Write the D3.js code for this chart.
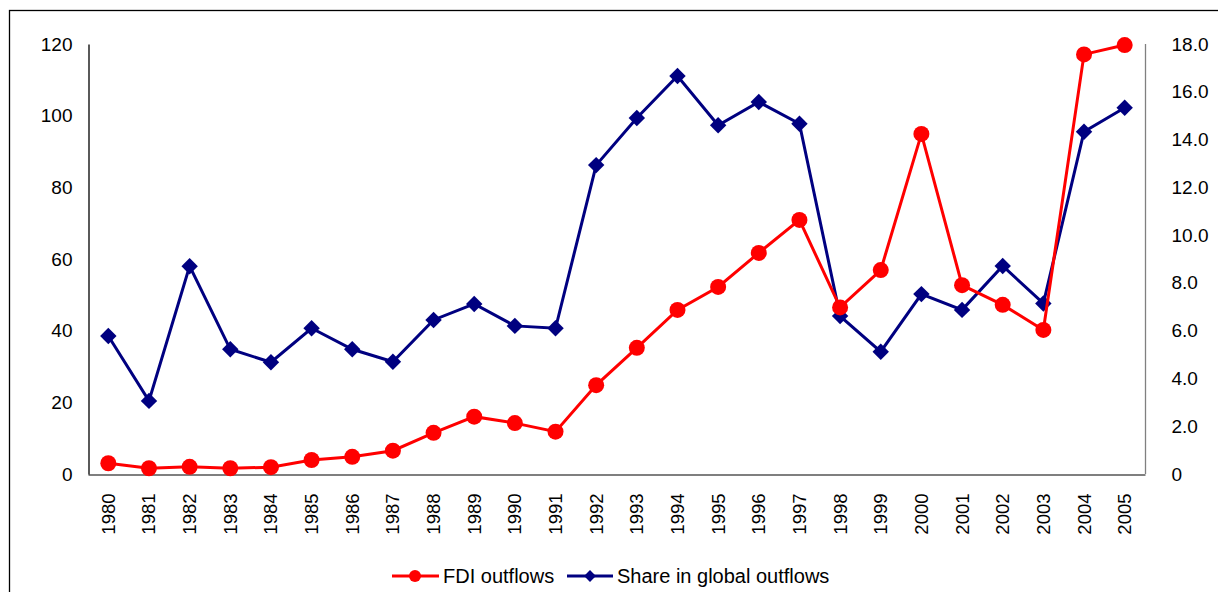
<!DOCTYPE html>
<html>
<head>
<meta charset="utf-8">
<script src="https://cdn.jsdelivr.net/npm/d3@7"></script>
<style>
  body { margin: 0; background: #fff; }
  svg { font-family: "Liberation Sans", Arial, sans-serif; }
</style>
</head>
<body>
<svg id="canvas"></svg>
<script>
const years = ['1980', '1981', '1982', '1983', '1984', '1985', '1986', '1987', '1988', '1989',
    '1990', '1991', '1992', '1993', '1994', '1995', '1996', '1997', '1998', '1999',
    '2000', '2001', '2002', '2003', '2004', '2005']
const fdiOutflows = [3.0, 1.6, 2.0, 1.6, 1.9, 3.9, 4.8, 6.5, 11.5, 16.0,
    14.2, 11.8, 24.8, 35.2, 45.8, 52.2, 61.7, 70.9, 46.5, 56.9,
    94.9, 52.7, 47.2, 40.2, 117.1, 119.7]
const globalShare = [5.78, 3.06, 8.7, 5.22, 4.68, 6.1, 5.22, 4.7, 6.45, 7.12,
    6.2, 6.1, 12.93, 14.9, 16.66, 14.6, 15.57, 14.66, 6.61, 5.12,
    7.53, 6.87, 8.71, 7.14, 14.33, 15.33]
const leftTicks = [0, 20, 40, 60, 80, 100, 120]
const rightTicks = [0, 2, 4, 6, 8, 10, 12, 14, 16, 18]

let width = 1218
let height = 592
let svg = d3.select('#canvas')
    .attr('width', width)
    .attr('height', height)

// outer frame of the chart area
svg.append('rect')
    .attr('x', 9.5).attr('y', 10.5)
    .attr('width', 1216).attr('height', 600)
    .attr('fill', 'none')
    .attr('stroke', '#000')
    .attr('stroke-width', 1.3)

let plotLeft = 88, plotRight = 1145, plotTop = 44, plotBottom = 474

let xScale = d3.scaleBand()
    .domain(years)
    .range([plotLeft, plotRight])

let yLeft = d3.scaleLinear().domain([0, 120]).range([plotBottom, plotTop])
let yRight = d3.scaleLinear().domain([0, 18]).range([plotBottom, plotTop])

// plot area border on the right
svg.append('line')
    .attr('x1', plotRight + 0.5).attr('x2', plotRight + 0.5)
    .attr('y1', plotTop).attr('y2', plotBottom)
    .attr('stroke', '#808080').attr('stroke-width', 1.3)

// axes
let xAxis = d3.axisBottom(xScale).tickSize(0).tickPadding(0)
let gx = svg.append('g')
    .attr('transform', 'translate(0,' + (plotBottom + 0.5) + ')')
    .call(xAxis)
gx.select('.domain').attr('stroke', '#555').attr('stroke-width', 1.3)
gx.selectAll('text')
    .attr('transform', 'rotate(-90)')
    .attr('x', -19)
    .attr('y', 0)
    .attr('dy', '0.35em')
    .attr('text-anchor', 'end')
    .attr('font-size', 18.5)
    .attr('fill', '#000')

let gl = svg.append('g')
    .attr('transform', 'translate(' + (plotLeft + 0.5) + ',0)')
    .call(d3.axisLeft(yLeft).tickValues(leftTicks).tickSize(0).tickPadding(16))
gl.select('.domain').attr('stroke', '#000').attr('stroke-width', 1.3)
gl.selectAll('text').attr('font-size', 19).attr('fill', '#000')

let gr = svg.append('g')
    .attr('transform', 'translate(' + (plotRight + 0.5) + ',0)')
    .call(d3.axisRight(yRight).tickValues(rightTicks).tickSize(0).tickPadding(26)
        .tickFormat((d) => d === 0 ? '0' : d3.format('.1f')(d)))
gr.select('.domain').remove()
gr.selectAll('text').attr('font-size', 19).attr('fill', '#000')

let cx = (d) => xScale(d) + xScale.bandwidth() / 2
let red = '#ff0000'
let navy = '#000080'
let diamond = d3.symbol().type(d3.symbolSquare).size(135)

// share in global outflows (right axis)
svg.append('path')
    .datum(years)
    .attr('fill', 'none')
    .attr('stroke', navy)
    .attr('stroke-width', 3)
    .attr('d', d3.line().x((d) => cx(d)).y((d, i) => yRight(globalShare[i])))

svg.selectAll('.share')
    .data(years)
    .enter()
    .append('path')
    .attr('class', 'share')
    .attr('d', diamond)
    .attr('fill', navy)
    .attr('transform', (d, i) => 'translate(' + cx(d) + ',' + yRight(globalShare[i]) + ') rotate(45)')

// FDI outflows (left axis)
svg.append('path')
    .datum(years)
    .attr('fill', 'none')
    .attr('stroke', red)
    .attr('stroke-width', 3)
    .attr('d', d3.line().x((d) => cx(d)).y((d, i) => yLeft(fdiOutflows[i])))

svg.selectAll('.fdi')
    .data(years)
    .enter()
    .append('circle')
    .attr('class', 'fdi')
    .attr('cx', (d) => cx(d))
    .attr('cy', (d, i) => yLeft(fdiOutflows[i]))
    .attr('r', 8)
    .attr('fill', red)

// legend
let legend = svg.append('g').attr('transform', 'translate(0,576)')
legend.append('line').attr('x1', 392).attr('x2', 439).attr('y1', 0).attr('y2', 0)
    .attr('stroke', red).attr('stroke-width', 3)
legend.append('circle').attr('cx', 415).attr('cy', 0).attr('r', 6).attr('fill', red)
legend.append('text').attr('x', 443).attr('y', 0).attr('dy', '0.35em')
    .attr('font-size', 20).text('FDI outflows')
legend.append('line').attr('x1', 567).attr('x2', 613).attr('y1', 0).attr('y2', 0)
    .attr('stroke', navy).attr('stroke-width', 3)
legend.append('path').attr('d', d3.symbol().type(d3.symbolSquare).size(70))
    .attr('fill', navy).attr('transform', 'translate(590,0) rotate(45)')
legend.append('text').attr('x', 617).attr('y', 0).attr('dy', '0.35em')
    .attr('font-size', 20).text('Share in global outflows')
</script>
</body>
</html>
